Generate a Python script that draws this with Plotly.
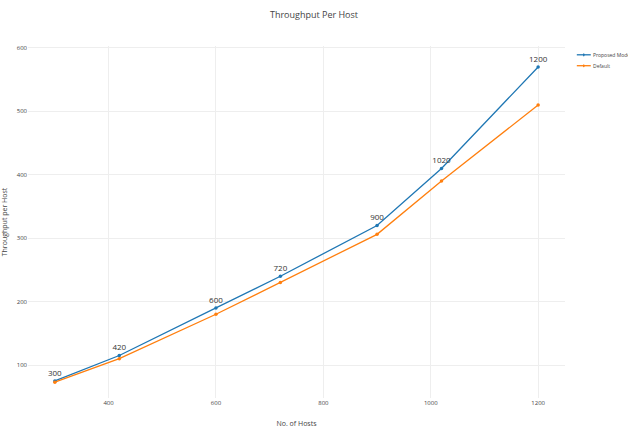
import plotly.graph_objects as go

hosts = [300, 420, 600, 720, 900, 1020, 1200]
proposed = [75, 115, 190, 240, 320, 410, 570]
default = [73, 110, 180, 230, 306, 390, 510]
labels = [str(h) for h in hosts]
series_names = ["Proposed Model", "Default"]
colors = ["#1f77b4", "#ff7f0e"]

fig = go.Figure()
fig.add_trace(go.Scatter(
    x=hosts, y=proposed, mode="lines+markers+text", name=series_names[0],
    text=labels, textposition="top center",
    textfont=dict(size=8, color="#333", family="Open Sans"),
    line=dict(color=colors[0], width=1.3), marker=dict(size=3.5),
    showlegend=False))
fig.add_trace(go.Scatter(
    x=hosts, y=default, mode="lines+markers", name=series_names[1],
    line=dict(color=colors[1], width=1.3), marker=dict(size=3.5),
    showlegend=False))

# compact legend drawn in paper coordinates
shapes = []
annotations = []
for i, (nm, c) in enumerate(zip(series_names, colors)):
    yy = 1.0 - 0.025 - i * 0.031
    shapes.append(dict(type="line", xref="paper", yref="paper",
                       x0=1.022, x1=1.048, y0=yy, y1=yy,
                       line=dict(color=c, width=1.3)))
    shapes.append(dict(type="circle", xref="paper", yref="paper",
                       x0=1.0335, x1=1.0365, y0=yy - 0.0045, y1=yy + 0.0045,
                       fillcolor=c, line=dict(color=c, width=0)))
    annotations.append(dict(text=nm, xref="paper", yref="paper",
                            x=1.049, y=yy, xanchor="left", yanchor="middle",
                            showarrow=False, font=dict(size=5, color="#444")))

fig.update_layout(
    width=628, height=432,
    margin=dict(l=28, r=63, t=46, b=34),
    paper_bgcolor="white", plot_bgcolor="white",
    font=dict(family="Open Sans", color="#444"),
    title=dict(text="Throughput Per Host", x=0.5, y=0.972, xanchor="center",
               font=dict(size=9, color="#444")),
    showlegend=False,
    shapes=shapes, annotations=annotations,
    xaxis=dict(range=[250, 1250], tickvals=[400, 600, 800, 1000, 1200],
               showgrid=True, gridcolor="#eeeeee", zeroline=False, automargin=False,
               tickfont=dict(size=6, color="#444"),
               title=dict(text="No. of Hosts", font=dict(size=7, color="#444"))),
    yaxis=dict(range=[48, 603], tickvals=[100, 200, 300, 400, 500, 600],
               showgrid=True, gridcolor="#eeeeee", zeroline=False, automargin=False,
               tickfont=dict(size=6, color="#444"),
               title=dict(text="Throughput per Host", font=dict(size=7, color="#444"))),
)

fig.write_html("out.html", config={"displayModeBar": False},
               post_script="document.body.style.margin='0';")
